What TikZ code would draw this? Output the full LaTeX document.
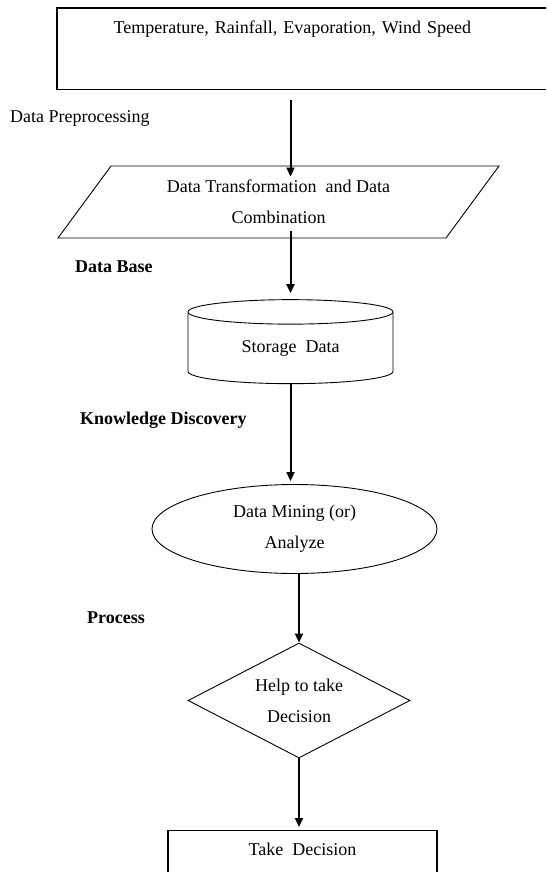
\documentclass[tikz,border=0pt]{standalone}
\usepackage{fontspec}
\setmainfont{Liberation Serif}
\usetikzlibrary{shapes.geometric,arrows.meta}

\begin{document}
\begin{tikzpicture}[x=1pt,y=-1pt,
      every node/.style = {font=\fontsize{18}{31}\selectfont, align=center},
      box/.style = {shape=rectangle, draw, line width=1.3pt,
        text height=13pt, inner ysep=12pt},
      slant/.style = {shape=trapezium, draw, line width=0.9pt,
        trapezium left angle=39.6, trapezium right angle=140.4,
        trapezium stretches body, minimum width=441pt,
        minimum height=72pt, inner sep=0pt},
      store/.style = {shape=cylinder, draw, line width=0.9pt,
        shape border rotate=90, aspect=0.25,
        minimum width=205pt, minimum height=84pt, inner sep=0pt},
      oval/.style = {shape=ellipse, draw, line width=0.9pt,
        minimum width=285pt, minimum height=89pt, inner sep=0pt},
      choice/.style = {shape=diamond, draw, line width=0.9pt, aspect=1.93,
        minimum width=222pt, minimum height=115pt, inner sep=0pt},
      flow/.style = {line width=2pt, -{Triangle[width=8pt,length=9pt]}},
      tag/.style = {anchor=base west, inner sep=0pt}]
  \useasboundingbox (0,0) rectangle (546,872);
  \clip (0,0) rectangle (546,872);

  % shapes
  \node[box, draw=none, anchor=north west, text depth=43pt, inner xsep=56pt,
    text width=460pt, align=left] (src) at (57,8)
    {Temperature, Rainfall, Evaporation, Wind Speed};
  \draw[line width=1.3pt] (src.north east) -- (src.north west)
    -- (src.south west) -- (src.south east);
  \node[slant] (para) at (278.5,202)
    {Data Transformation\ \ and Data\\Combination};
  \node[store] (base) at (290.5,348) {Storage\ \ Data};
  \node[oval] (mine) at (294.5,529) {Data Mining (or)\\Analyze};
  \node[choice] (dec) at (299,700.5) {Help to take\\Decision};
  \node[box, anchor=north, minimum width=269pt, text depth=40pt]
    (take) at (302.5,830) {Take\ \ Decision};

  % side labels
  \node[tag] (pre) at (10,122) {Data Preprocessing};
  \node[tag, font=\fontsize{18}{31}\selectfont\bfseries] (db) at (75,272) {Data Base};
  \node[tag, font=\fontsize{18}{31}\selectfont\bfseries] (kd) at (80,424) {Knowledge Discovery};
  \node[tag, font=\fontsize{18}{31}\selectfont\bfseries] (proc) at (87,623) {Process};

  % arrows
  \draw[flow, shorten <=11pt, shorten >=-11pt]
    (src.south -| base.north) -- (para.north -| base.north);
  \draw[flow, shorten <=-7pt, shorten >=6pt]
    (para.south -| base.north) -- (base.north);
  \draw[flow, shorten >=3pt] (base.south) -- (mine.north -| base.south);
  \draw[flow] (mine.south -| dec.north) -- (dec.north);
  \draw[flow, shorten >=3pt] (dec.south) -- (dec.south |- take.north);
\end{tikzpicture}
\end{document}
